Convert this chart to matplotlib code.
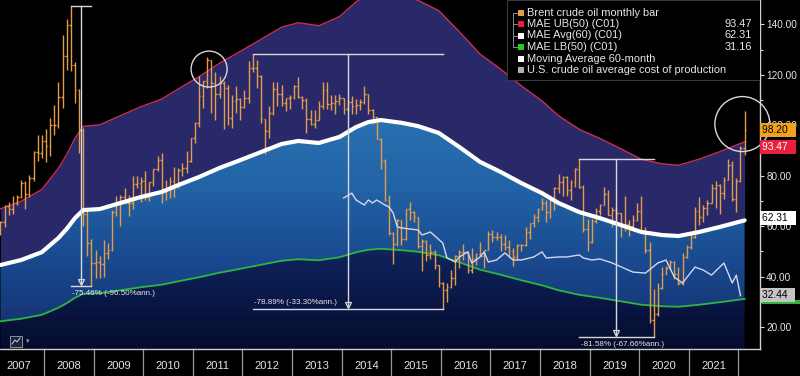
import numpy as np
import matplotlib
matplotlib.use("Agg")
import matplotlib.pyplot as plt
from matplotlib.collections import LineCollection
from matplotlib.colors import LinearSegmentedColormap
from matplotlib.patches import Circle, Rectangle
from matplotlib.transforms import ScaledTranslation, blended_transform_factory
from matplotlib.ticker import MultipleLocator, FormatStrFormatter

plt.rcParams['font.family'] = ['Liberation Sans', 'DejaVu Sans']

# ---- data ----
first_month = "2007-02"
# monthly OHLC of Brent, Feb 2007 .. Feb 2022
bar_open = [
    57.0, 61.8, 68.1, 67.0, 69.0, 71.4, 77.1, 72.7, 79.2, 89.4, 88.9,
    93.9, 91.8, 100.1, 100.3, 111.4, 127.4, 139.8, 124.1, 114.1, 98.2, 65.0, 53.5,
    45.6, 45.9, 45.2, 49.2, 50.6, 65.6, 69.3, 71.7, 69.0, 69.1, 76.9, 77.3,
    77.9, 71.5, 77.6, 82.7, 86.2, 74.6, 75.0, 78.0, 76.7, 82.3, 83.2, 85.9,
    94.8, 101.0, 111.8, 117.4, 125.9, 116.7, 112.5, 116.7, 114.9, 102.8, 109.6, 110.5,
    107.4, 111.0, 122.7, 122.9, 119.5, 102.4, 97.8, 104.9, 114.6, 112.4, 108.7, 110.9,
    111.1, 115.6, 111.4, 110.0, 102.4, 100.4, 102.2, 107.7, 114.0, 108.4, 108.8, 109.7,
    110.8, 106.4, 109.1, 107.8, 108.1, 109.4, 112.4, 106.0, 103.2, 94.7, 85.9, 70.2,
    57.3, 53.0, 62.6, 55.1, 66.8, 65.6, 63.6, 52.2, 54.2, 48.4, 49.6, 44.6,
    37.3, 34.7, 36.0, 39.6, 48.1, 49.7, 49.7, 42.5, 47.0, 49.1, 48.3, 50.5,
    56.8, 55.7, 55.6, 52.8, 51.7, 50.3, 47.9, 52.7, 52.4, 57.5, 61.4, 63.6,
    66.9, 69.1, 65.8, 70.3, 75.2, 77.6, 79.4, 74.3, 77.4, 82.7, 75.5, 58.7,
    53.8, 61.9, 66.0, 68.4, 72.8, 64.5, 66.6, 65.2, 60.4, 60.8, 60.2, 62.4,
    66.0, 58.2, 50.5, 22.7, 25.3, 35.3, 41.2, 43.3, 45.8, 41.0, 37.5, 47.6,
    51.8, 55.9, 66.1, 63.5, 67.3, 69.3, 75.1, 76.3, 73.0, 78.5, 84.4, 70.6,
    77.8, 91.2]
bar_high = [
    62.0, 68.5, 69.5, 72.0, 72.5, 78.4, 78.0, 80.2, 90.0, 96.0, 96.0,
    98.5, 103.0, 108.0, 117.0, 136.0, 142.0, 147.5, 125.0, 114.5, 99.0, 67.0, 55.0,
    50.5, 48.0, 54.5, 53.5, 66.5, 72.0, 72.5, 75.0, 72.5, 80.0, 80.0, 79.5,
    82.0, 77.5, 82.8, 88.0, 89.0, 78.5, 79.5, 83.5, 83.0, 85.0, 90.0, 95.0,
    101.5, 119.5, 117.5, 127.0, 126.0, 121.0, 119.5, 117.5, 116.0, 112.0, 115.5, 111.0,
    114.0, 125.5, 128.4, 126.0, 120.0, 102.5, 107.5, 117.0, 117.0, 116.0, 111.0, 112.0,
    116.0, 119.2, 111.5, 111.0, 106.0, 106.0, 109.5, 117.3, 117.0, 112.0, 112.0, 112.5,
    110.8, 110.0, 111.5, 110.5, 110.5, 115.7, 112.5, 106.5, 103.5, 95.0, 86.5, 72.5,
    57.5, 63.0, 62.6, 67.0, 69.6, 66.0, 63.6, 55.0, 54.5, 53.0, 50.5, 44.6,
    38.0, 37.5, 42.5, 48.5, 50.5, 52.9, 50.0, 51.2, 49.5, 53.7, 50.5, 57.9,
    58.4, 57.5, 56.9, 56.6, 54.7, 51.4, 52.9, 53.0, 59.5, 61.4, 64.7, 67.3,
    71.3, 70.4, 71.0, 75.5, 80.5, 79.9, 79.8, 78.2, 83.1, 86.74, 76.5, 63.0,
    62.9, 67.4, 68.7, 75.6, 74.5, 67.6, 67.5, 65.2, 72.0, 62.3, 64.4, 69.0,
    71.8, 59.7, 53.9, 34.9, 37.6, 43.9, 44.1, 46.5, 46.2, 43.9, 49.2, 52.5,
    57.4, 67.7, 71.4, 68.6, 70.2, 76.7, 77.8, 76.6, 79.5, 86.7, 86.0, 79.3,
    91.7, 105.8]
bar_low = [
    56.5, 59.5, 64.5, 65.0, 68.5, 71.0, 67.0, 71.5, 78.0, 86.0, 87.0,
    85.5, 88.0, 96.0, 99.0, 107.0, 122.0, 121.5, 109.0, 89.0, 60.0, 48.0, 36.2,
    39.5, 39.5, 40.0, 47.0, 50.0, 64.0, 60.0, 69.0, 64.0, 67.0, 75.0, 69.5,
    70.5, 70.0, 76.0, 82.0, 69.0, 70.5, 71.0, 71.5, 75.0, 80.0, 81.0, 85.5,
    93.0, 99.5, 107.0, 115.0, 105.0, 102.0, 111.0, 98.7, 100.0, 99.0, 105.0, 102.0,
    107.0, 109.0, 121.0, 115.0, 101.0, 88.5, 95.0, 104.0, 107.5, 107.5, 105.5, 106.5,
    110.5, 111.0, 106.5, 97.0, 100.0, 99.0, 102.0, 106.5, 106.5, 106.0, 104.5, 108.0,
    104.5, 105.5, 104.5, 104.5, 106.0, 108.5, 104.5, 100.5, 94.5, 82.6, 69.8, 56.5,
    45.2, 52.0, 52.5, 54.5, 62.5, 61.5, 51.5, 42.2, 46.0, 47.0, 43.0, 36.0,
    27.1, 30.0, 35.5, 36.5, 43.5, 46.5, 41.5, 41.5, 44.5, 48.3, 43.5, 50.5,
    53.6, 54.5, 50.3, 50.5, 47.6, 44.4, 46.4, 50.0, 52.0, 54.9, 59.8, 61.5,
    66.3, 61.8, 63.1, 66.6, 73.0, 71.9, 71.8, 70.3, 75.6, 75.0, 57.5, 50.0,
    53.3, 61.2, 64.6, 68.3, 64.5, 59.5, 61.0, 55.9, 58.0, 56.2, 59.6, 61.9,
    57.7, 49.5, 21.7, 15.98, 24.4, 35.1, 41.0, 43.2, 39.0, 36.6, 36.6, 47.2,
    51.0, 55.2, 60.3, 61.5, 64.5, 69.0, 67.4, 65.0, 70.9, 78.4, 69.8, 65.7,
    77.6, 88.1]
bar_close = [
    61.8, 68.1, 67.0, 69.0, 71.4, 77.1, 72.7, 79.2, 89.4, 88.9, 93.9,
    91.8, 100.1, 100.3, 111.4, 127.4, 139.8, 124.1, 114.1, 98.2, 65.0, 53.5, 45.6,
    45.9, 45.2, 49.2, 50.6, 65.6, 69.3, 71.7, 69.0, 69.1, 76.9, 77.3, 77.9,
    71.5, 77.6, 82.7, 86.2, 74.6, 75.0, 78.0, 76.7, 82.3, 83.2, 85.9, 94.8,
    101.0, 111.8, 117.4, 125.9, 116.7, 112.5, 116.7, 114.9, 102.8, 109.6, 110.5, 107.4,
    111.0, 122.7, 122.9, 119.5, 102.4, 97.8, 104.9, 114.6, 112.4, 108.7, 110.9, 111.1,
    115.6, 111.4, 110.0, 102.4, 100.4, 102.2, 107.7, 114.0, 108.4, 108.8, 109.7, 110.8,
    106.4, 109.1, 107.8, 108.1, 109.4, 112.4, 106.0, 103.2, 94.7, 85.9, 70.2, 57.3,
    53.0, 62.6, 55.1, 66.8, 65.6, 63.6, 52.2, 54.2, 48.4, 49.6, 44.6, 37.3,
    34.7, 36.0, 39.6, 48.1, 49.7, 49.7, 42.5, 47.0, 49.1, 48.3, 50.5, 56.8,
    55.7, 55.6, 52.8, 51.7, 50.3, 47.9, 52.7, 52.4, 57.5, 61.4, 63.6, 66.9,
    69.1, 65.8, 70.3, 75.2, 77.6, 79.4, 74.3, 77.4, 82.7, 75.5, 58.7, 53.8,
    61.9, 66.0, 68.4, 72.8, 64.5, 66.6, 65.2, 60.4, 60.8, 60.2, 62.4, 66.0,
    58.2, 50.5, 22.7, 25.3, 35.3, 41.2, 43.3, 45.8, 41.0, 37.5, 47.6, 51.8,
    55.9, 66.1, 63.5, 67.3, 69.3, 75.1, 76.3, 73.0, 78.5, 84.4, 70.6, 77.8,
    91.2, 98.2]

# MAE Avg(60) centre line; bands are +/- 50 % of it
avg_dates = ["2007-02", "2007-07", "2007-12", "2008-04", "2008-06", "2008-08", "2008-10",
             "2009-02", "2009-07", "2009-12", "2010-05", "2010-09", "2011-02", "2011-07",
             "2011-12", "2012-05", "2012-10", "2013-02", "2013-07", "2013-12", "2014-04",
             "2014-07", "2014-10", "2015-03", "2015-07", "2015-12", "2016-05", "2016-10",
             "2017-03", "2017-08", "2018-01", "2018-05", "2018-10", "2019-03", "2019-08",
             "2020-01", "2020-06", "2020-10", "2021-03", "2021-08", "2022-02"]
avg_vals = [44.6, 46.6, 49.7, 55.3, 58.9, 63.2, 66.4,
            66.8, 69.2, 71.6, 73.6, 76.3, 79.5, 83.1,
            86.2, 89.4, 92.6, 93.8, 93.0, 95.4, 99.3,
            101.3, 102.1, 101.0, 99.7, 97.0, 91.4, 85.5,
            81.5, 77.1, 73.1, 69.2, 65.6, 63.2, 60.5,
            57.7, 56.5, 56.1, 57.7, 59.7, 62.31]
ENVELOPE = 0.50

# U.S. crude oil average cost of production
cost_dates = ["2014-01", "2014-03", "2014-04", "2014-06", "2014-07", "2014-08", "2014-09",
              "2014-11", "2014-12", "2015-01", "2015-02", "2015-03", "2015-07", "2015-08",
              "2015-10", "2016-01", "2016-02", "2016-04", "2016-05", "2016-07", "2016-08",
              "2016-10", "2016-11", "2016-12", "2017-02", "2017-04", "2017-06", "2017-08",
              "2017-11", "2018-01", "2018-02", "2018-05", "2018-07", "2018-10", "2018-11",
              "2019-01", "2019-03", "2019-06", "2019-11", "2020-02", "2020-05", "2020-07",
              "2020-09", "2020-11", "2021-02", "2021-04", "2021-06", "2021-09", "2021-11",
              "2021-12", "2022-01"]
cost_vals = [71.2, 73.1, 70.4, 68.4, 70.4, 69.2, 70.4,
             68.4, 67.6, 65.2, 59.7, 59.3, 58.5, 56.5,
             57.7, 53.3, 47.4, 45.8, 47.8, 49.8, 45.4,
             47.8, 49.8, 45.8, 46.6, 49.4, 46.6, 46.6,
             47.8, 49.8, 47.4, 47.8, 47.8, 48.6, 47.4,
             46.6, 47.0, 45.4, 41.8, 41.4, 45.4, 46.6,
             39.8, 37.5, 43.8, 42.6, 40.6, 45.4, 37.5,
             40.6, 32.44]

# drawdown measurements: peak month, trough month, label, text side
drawdowns = [("2008-07", "2008-12", "-75.46% (-96.50%ann.)", "below"),
             ("2012-03", "2016-01", "-78.89% (-33.30%ann.)", "above"),
             ("2018-10", "2020-04", "-81.58% (-67.66%ann.)", "below")]

years = list(range(2007, 2022))

legend_labels = ["Brent crude oil monthly bar", "MAE UB(50) (C01)", "MAE Avg(60) (C01)",
                 "MAE LB(50) (C01)", "Moving Average 60-month",
                 "U.S. crude oil average cost of production"]
legend_values = ["", "93.47", "62.31", "31.16", "", ""]

# ---- colours ----
BAR = '#e39d48'
UBC = '#c8305a'
LBC = '#2fb53f'
PURPLE = '#29296a'
TXT = '#e6e6e6'


def to_year(s):
    y, m = s.split("-")
    return int(y) + (int(m) - 1) / 12 + 1 / 24


def month_index(s):
    y, m = map(int, s.split("-"))
    y0, m0 = map(int, first_month.split("-"))
    return (y - y0) * 12 + (m - m0)


n = len(bar_close)
t_bar = np.array([to_year(first_month) + i / 12 for i in range(n)])
t_avg = np.array([to_year(d) for d in avg_dates])
avg = np.array(avg_vals)
ub = avg * (1 + ENVELOPE)
lb = avg * (1 - ENVELOPE)
t_cost = np.array([to_year(d) for d in cost_dates])

fig = plt.figure(figsize=(8, 3.76), dpi=100, facecolor='black')
AX_W, AX_H = 760, 349
ax = fig.add_axes([0, 27 / 376, AX_W / 800, AX_H / 376])
ax.set_facecolor('black')

x0, x1 = t_bar[0] - 0.01, t_bar[0] - 0.01 + 765.6 / 49.6 - 0.125 + 0.01
ymin, ymax = 11.3, 149.7

# bands
ax.fill_between(t_avg, avg, ub, color=PURPLE, lw=0, zorder=1)
grad = np.linspace(0, 1, 256).reshape(-1, 1)
blue = LinearSegmentedColormap.from_list('blue', ['#14326f', '#1a4a90', '#2264a6', '#2a72b2'])
im = ax.imshow(grad, extent=[t_avg[0], t_avg[-1], 18, 105], origin='lower', cmap=blue,
               aspect='auto', zorder=1, interpolation='bilinear')
band = ax.fill_between(t_avg, lb, avg, facecolor='none', lw=0)
im.set_clip_path(band.get_paths()[0], transform=ax.transData)
navy = LinearSegmentedColormap.from_list('navy', ['#050b2c', '#0a1848', '#10255e'])
im2 = ax.imshow(grad, extent=[t_avg[0], t_avg[-1], ymin, 52], origin='lower', cmap=navy,
                aspect='auto', zorder=1, interpolation='bilinear')
low = ax.fill_between(t_avg, ymin, lb, facecolor='none', lw=0)
im2.set_clip_path(low.get_paths()[0], transform=ax.transData)

ax.plot(t_avg, ub, color=UBC, lw=1.0, zorder=2)
ax.plot(t_avg, lb, color=LBC, lw=1.3, zorder=2)

# OHLC bars
w = 1.5 / 49.6
segs = []
for t, o, h, l, c in zip(t_bar, bar_open, bar_high, bar_low, bar_close):
    segs.append([(t, l), (t, h)])
    segs.append([(t - w, o), (t, o)])
    segs.append([(t, c), (t + w, c)])
ax.add_collection(LineCollection(segs, colors=BAR, linewidths=1.0, zorder=3))

ax.plot(t_cost, cost_vals, color='#d6d6ee', lw=1.0, zorder=4)
ax.plot(t_avg, avg, color='white', lw=3.0, zorder=4, solid_capstyle='round',
        solid_joinstyle='round')

# drawdown measures
for p, q, label, side in drawdowns:
    ip, iq = month_index(p), month_index(q)
    tp, tq = t_bar[ip], t_bar[iq]
    hi, lo = bar_high[ip], bar_low[iq]
    tm = (tp + tq) / 2
    kw = dict(color='#d8d8d8', lw=1.0, zorder=5)
    ax.plot([tp, tq], [hi, hi], **kw)
    ax.plot([tp, tq], [lo, lo], **kw)
    ax.plot([tm, tm], [hi, lo + 1.2], **kw)
    ax.plot([tm], [lo + 1.6], marker='v', ms=5, mfc='none', mec='#d8d8d8', mew=0.9, zorder=5)
    dy = -5.5 if side == "below" else 4.5
    ax.annotate(label, xy=(tp, lo), xytext=(1, dy), textcoords='offset points',
                ha='left', va='center', color=TXT, fontsize=5.8, zorder=6)

# highlight circles (radius in pixels)
for tc, vc, r in [(2011.33, 122.3, 18), (2022.08, 100.5, 27.5)]:
    circ = Circle((0, 0), r / 100, fill=False, ec='#d8d8d8', lw=1.0, zorder=6,
                  transform=fig.dpi_scale_trans + ScaledTranslation(tc, vc, ax.transData))
    circ.set_clip_on(False)
    ax.add_patch(circ)

ax.set_xlim(x0, x1)
ax.set_ylim(ymin, ymax)

# axes styling
for s in ['top', 'left']:
    ax.spines[s].set_visible(False)
ax.spines['right'].set_color('#d0d0d0')
ax.spines['bottom'].set_color('#d0d0d0')
ax.spines['right'].set_linewidth(1.0)
ax.spines['bottom'].set_linewidth(1.0)
ax.yaxis.tick_right()
ax.yaxis.set_major_locator(MultipleLocator(20))
ax.yaxis.set_minor_locator(MultipleLocator(10))
ax.yaxis.set_major_formatter(FormatStrFormatter('%.2f'))
ax.tick_params(axis='y', which='both', colors='#d8d8d8', direction='out', width=0.8,
               labelsize=7.2, labelcolor=TXT, pad=1.5)
ax.tick_params(axis='y', which='major', length=3)
ax.tick_params(axis='y', which='minor', length=2)
ax.set_xticks([y + 0.5 for y in years])
ax.set_xticklabels([str(y) for y in years])
ax.tick_params(axis='x', length=0, labelsize=8, labelcolor=TXT, pad=8.5)
ax.set_zorder(2)

# year dividers in the label strip
bt = blended_transform_factory(ax.transData, ax.transAxes)
for y in years[1:] + [2022]:
    ax.plot([y, y], [0, -27 / AX_H], transform=bt, color='#9a9a9a', lw=0.9, clip_on=False)

# value tags on the right axis
ty = blended_transform_factory(ax.transAxes, ax.transData)
ax.add_patch(Rectangle((1.003, 29.3), 0.06, 1.6, transform=ty, fc=LBC, ec='none',
                       clip_on=False, zorder=9))
tags = [(32.44, f"{cost_vals[-1]:.2f}", '#c4c4c4', 'black', 0.5),
        (62.31, legend_values[2], 'white', 'black', 1.5),
        (93.47, legend_values[1], '#e8203c', 'white', -3.5),
        (bar_close[-1], f"{bar_close[-1]:.2f}", '#f0a21e', 'black', 0)]
for v, s, bg, fg, dy in tags:
    ax.annotate(s + "  ", xy=(1, v), xycoords=('axes fraction', 'data'), xytext=(1.5, dy),
                textcoords='offset points', ha='left', va='center', fontsize=7.4, color=fg,
                bbox=dict(boxstyle='square,pad=0.2', fc=bg, ec='none'), zorder=10,
                annotation_clip=False)


def px(x, y):
    return x / AX_W, 1 - y / AX_H


# legend box
lx, ly = px(507, 80)
ax.add_patch(Rectangle((lx, ly), 1 - lx, 1 - ly, transform=ax.transAxes, fc='black',
                       ec='#3a3a3a', lw=0.8, zorder=8))
leg_colors = [BAR, '#e8203c', 'white', '#22cc22', 'white', '#b0b0b0']
rows = [12.5, 24, 35.5, 47, 58.5, 70]
for lab, val, col, yy in zip(legend_labels, legend_values, leg_colors, rows):
    sx, sy = px(518, yy + 3)
    ax.add_patch(Rectangle((sx, sy), 6 / AX_W, 6 / AX_H, transform=ax.transAxes,
                           fc=col, ec='none', zorder=9))
    tx, ty_ = px(527, yy)
    ax.text(tx, ty_, lab, transform=ax.transAxes, ha='left', va='center', fontsize=7.9,
            color=TXT, zorder=9)
    if val:
        vx, vy = px(752, yy)
        ax.text(vx, vy, val, transform=ax.transAxes, ha='right', va='center',
                fontsize=7.9, color=TXT, zorder=9)
# tree bracket
bx = 513
ax.plot(*zip(px(bx, rows[0]), px(bx, rows[3])), transform=ax.transAxes, color='#8a8a8a',
        lw=0.7, zorder=9)
for yy in rows[:4]:
    ax.plot(*zip(px(bx, yy), px(517, yy)), transform=ax.transAxes, color='#8a8a8a',
            lw=0.7, zorder=9)

# small chart-type icon bottom left
ix, iy = px(10, 347)
ax.add_patch(Rectangle((ix, iy), 12 / AX_W, 11 / AX_H, transform=ax.transAxes,
                       fc='#1c2438', ec='#8090a8', lw=0.7, zorder=9))
zz = [px(12, 344), px(15, 340), px(17, 342), px(20, 338)]
ax.plot([p[0] for p in zz], [p[1] for p in zz], transform=ax.transAxes, color='#c0d0e0',
        lw=0.7, zorder=9)
ax.text(*px(26, 342), "\u25be", transform=ax.transAxes, fontsize=5, color='#a0a0a0',
        ha='left', va='center', zorder=9)

fig.savefig("out.png", dpi=100, facecolor='black')
